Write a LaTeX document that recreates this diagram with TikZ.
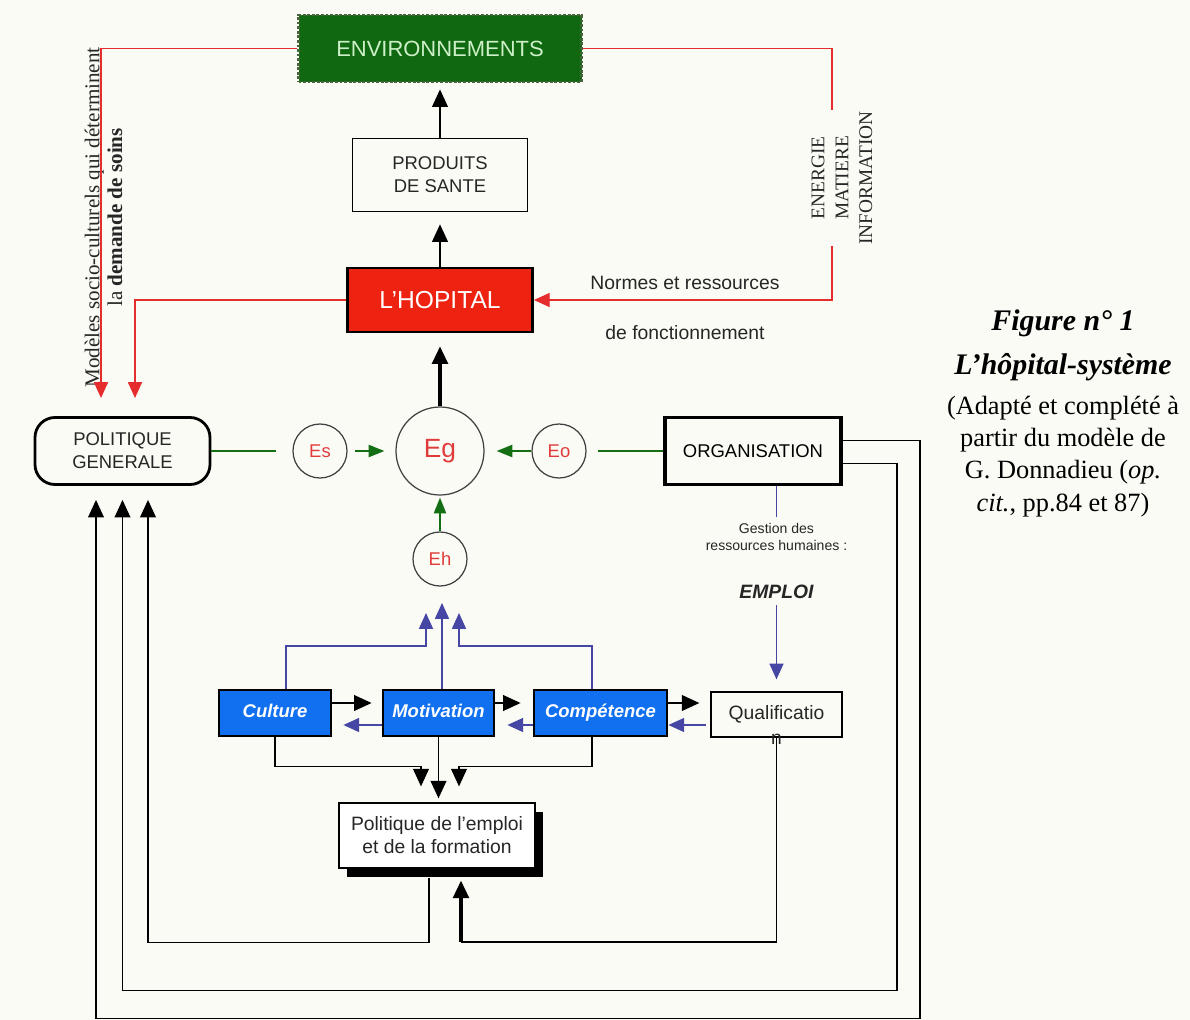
\documentclass[tikz,border=0pt]{standalone}
\usepackage{fontspec}
\setmainfont{Liberation Serif}
\setsansfont{Liberation Sans}
\usepackage{tikz}
\usetikzlibrary{
    arrows.meta,
    positioning,
    calc,
    shadows
}

\definecolor{paper}{RGB}{251,251,245}
\definecolor{envgreen}{RGB}{16,104,16}
\definecolor{envtext}{RGB}{205,240,200}
\definecolor{envdot}{RGB}{70,100,60}
\definecolor{hopred}{RGB}{238,34,16}
\definecolor{linered}{RGB}{230,45,45}
\definecolor{boxblue}{RGB}{16,112,240}
\definecolor{lineblue}{RGB}{70,70,165}
\definecolor{arrgreen}{RGB}{20,110,20}
\definecolor{etext}{RGB}{225,60,60}

\newcommand{\fsz}[2]{\fontsize{#1}{#2}\selectfont}

\begin{document}
\begin{tikzpicture}[
            box/.style={draw, align=center, inner sep=2pt, text=black!85, font=\sffamily\fsz{10.5pt}{13pt}},
            envbox/.style={box, fill=envgreen, draw=envdot, densely dotted, line width=1.6pt, text=envtext,
                minimum width=5.66cm, minimum height=1.34cm, font=\sffamily\fsz{12.5pt}{14pt}},
            hopbox/.style={box, fill=hopred, line width=1.6pt, text=white,
                minimum width=3.7cm, minimum height=1.28cm, font=\sffamily\fsz{14pt}{16pt}},
            bluebox/.style={box, fill=boxblue, line width=1.6pt, text=white, minimum height=0.92cm,
                text height=1.6ex, text depth=0.4ex, font=\sffamily\bfseries\itshape\fsz{10.5pt}{12pt}},
            ecirc/.style={circle, draw=black!75, line width=0.7pt, minimum size=1.08cm, inner sep=0pt,
                text=etext, font=\sffamily\fsz{10.5pt}{12pt}},
            note/.style={align=center, text=black!85, font=\sffamily\fsz{11pt}{13pt}},
            kline/.style={line width=0.9pt, black},
            karr/.style={-{Triangle[length=10pt, width=9pt]}, line width=0.9pt, black},
            tarr/.style={-{Triangle[length=10pt, width=9pt]}, line width=1.8pt, black},
            rarr/.style={-{Triangle[length=9pt, width=8pt]}, line width=0.8pt, linered},
            garr/.style={-{Triangle[length=9pt, width=7pt]}, line width=0.8pt, arrgreen},
            gline/.style={line width=0.7pt, arrgreen},
            barr/.style={-{Triangle[length=9pt, width=8pt]}, line width=0.8pt, lineblue},
            bline/.style={line width=0.8pt, lineblue}
        ]
            \fill[paper] (0,0) rectangle (23.8,-20.4);
            \useasboundingbox (0,0) rectangle (23.8,-20.4);

            % ====== Top: environment / hospital ======
            \node[envbox] (env) at (8.8,-0.97) {ENVIRONNEMENTS};
            \node[box, minimum width=3.5cm, minimum height=1.46cm] (prod) at (8.8,-3.49) {PRODUITS\\DE SANTE};
            \node[hopbox] (hop) at (8.8,-6.0) {L'HOPITAL};

            \draw[karr, shorten >=0.12cm] (prod.north) -- (env.south);
            \draw[karr, shorten >=0.26cm] (hop.north) -- (prod.south);

            \node[rotate=90, align=center, text=black!85, font=\fsz{12pt}{13pt}] (socio) at (2.07,-4.35)
                {Modèles socio-culturels qui déterminent\\la \textbf{demande de soins}};
            \node[note] (norm) at (13.7,-5.66) {Normes et ressources};
            \node[note] (fonc) at (13.7,-6.66) {de fonctionnement};

            \coordinate (dm1) at (2.02,-7.96);
            \coordinate (dm2) at (2.7,-7.96);
            \coordinate (rc) at (16.64,-0.97);
            \draw[rarr] (env.west) -| (dm1);
            \draw[rarr] (hop.west) -| (dm2);
            \draw[rarr] (env.east) -- (rc) |- (hop.east);
            \node[rotate=90, align=center, fill=paper, inner sep=1pt, text=black!85, font=\fsz{11pt}{13.6pt}] (emi) at (16.84,-3.56)
                {ENERGIE\\MATIERE\\INFORMATION};

            % ====== Middle row: E circles ======
            \node[box, rounded corners=0.4cm, line width=1.6pt, minimum width=3.5cm, minimum height=1.34cm] (pg) at (2.45,-9.02) {POLITIQUE\\GENERALE};
            \node[box, line width=2pt, minimum width=3.52cm, minimum height=1.34cm, text=black] (org) at (15.06,-9.02) {ORGANISATION};
            \node[ecirc, minimum size=1.76cm, font=\sffamily\fsz{15pt}{17pt}] (eg) at (8.8,-9.02) {Eg};
            \node[ecirc] (es) at (6.4,-9.02) {Es};
            \node[ecirc] (eo) at (11.18,-9.02) {Eo};
            \node[ecirc] (eh) at (8.8,-11.18) {Eh};

            \draw[tarr, shorten >=0.26cm] (eg.north) -- (hop.south);
            \draw[gline, shorten >=0.32cm] (pg.east) -- (es.west);
            \draw[garr, shorten <=0.14cm, shorten >=0.22cm] (es.east) -- (eg.west);
            \draw[gline, shorten >=0.22cm] (org.west) -- (eo.east);
            \draw[garr, shorten >=0.24cm] (eo.west) -- (eg.east);
            \draw[garr, shorten >=0.04cm] (eh.north) -- (eg.south);

            % ====== Human resources ======
            \node[note, font=\sffamily\fsz{8pt}{10pt}] (gest) at (15.53,-10.74) {Gestion des\\ressources humaines :};
            \node[note, font=\sffamily\bfseries\itshape\fsz{11pt}{13pt}] (emp) at (15.53,-11.84) {EMPLOI};

            \node[bluebox, minimum width=2.24cm] (cult) at (5.5,-14.26) {Culture};
            \node[bluebox, minimum width=2.22cm] (motiv) at (8.77,-14.26) {Motivation};
            \node[bluebox, minimum width=2.66cm] (comp) at (12.01,-14.26) {Compétence};
            \node[box, line width=0.7pt, minimum width=2.62cm, minimum height=0.9cm, font=\sffamily\fsz{11pt}{13pt},
                  label={[label distance=-0.2cm, font=\sffamily\fsz{11pt}{13pt}, text=black!85]below:n}] (qual) at (15.53,-14.29) {Qualificatio};
            \node[box, fill=white, line width=0.7pt, minimum width=3.92cm, minimum height=1.3cm, font=\sffamily\fsz{11pt}{13pt},
                  drop shadow={shadow xshift=0.16cm, shadow yshift=-0.18cm, fill=black, opacity=1}] (pol) at (8.74,-16.71)
                {Politique de l'emploi\\et de la formation};

            \draw[bline] (org.south -| gest.north) -- (gest.north);
            \draw[barr, shorten >=0.24cm] (emp.south) -- (qual.north);

            \coordinate (tipl) at (8.52,-12.26);
            \coordinate (tipm) at (8.84,-12.06);
            \coordinate (tipr) at (9.18,-12.26);
            \draw[barr] ([xshift=0.22cm]cult.north) |- ([yshift=-0.66cm]tipl) -- (tipl);
            \draw[barr] (motiv.north -| tipm) -- (tipm);
            \draw[barr] ([xshift=-0.17cm]comp.north) |- ([yshift=-0.66cm]tipr) -- (tipr);

            \draw[karr, shorten >=0.2cm] ([yshift=0.2cm]cult.east) -- ([yshift=0.2cm]motiv.west);
            \draw[karr, shorten >=0.24cm] ([yshift=0.2cm]motiv.east) -- ([yshift=0.2cm]comp.west);
            \draw[karr, shorten >=0.22cm] ([yshift=0.2cm]comp.east) -- ([yshift=0.2cm]comp.east -| qual.west);
            \draw[barr, shorten >=0.22cm] ([yshift=-0.24cm]motiv.west) -- ([yshift=-0.24cm]cult.east);
            \draw[barr, shorten >=0.24cm] ([yshift=-0.24cm]comp.west) -- ([yshift=-0.24cm]motiv.east);
            \draw[barr, shorten <=0.08cm] ([yshift=-0.24cm]comp.east -| qual.west) -- ([yshift=-0.24cm]comp.east);

            \draw[karr, shorten >=0.32cm] (cult.south) |- ([xshift=-0.32cm,yshift=0.72cm]pol.north) -- ([xshift=-0.32cm]pol.north);
            \draw[karr, shorten >=0.08cm] (motiv.south) -- (motiv.south |- pol.north);
            \draw[karr, shorten >=0.32cm] ([xshift=-0.17cm]comp.south) |- ([xshift=0.44cm,yshift=0.72cm]pol.north) -- ([xshift=0.44cm]pol.north);

            % ====== Feedback loops ======
            \draw[karr, shorten >=0.28cm] ([xshift=-0.16cm,yshift=-0.18cm]pol.south) -- ++(0,-1.3) -| ([xshift=0.51cm]pg.south);
            \draw[karr, shorten >=0.28cm] ([yshift=-0.25cm]org.east) -- ++(1.08,0) -- ++(0,-10.54) -| (pg.south);
            \draw[karr, shorten >=0.28cm] ([yshift=0.21cm]org.east) -- ++(1.54,0) -- ++(0,-11.56) -| ([xshift=-0.53cm]pg.south);
            \coordinate (qturn) at (9.22,-18.84);
            \draw[kline] (qual.south) |- (qturn);
            \draw[tarr, shorten >=0.24cm] (qturn) -- (qturn |- pol.south);

            % ====== Caption ======
            \node[align=center, font=\bfseries\itshape\fsz{17pt}{25pt}] (figt) at (21.26,-6.9) {Figure n° 1\\L’hôpital-système};
            \node[align=center, font=\fsz{15pt}{18.3pt}] (figc) at (21.26,-9.13)
                {(Adapté et complété à\\partir du modèle de\\G. Donnadieu (\textit{op.}\\\textit{cit.}, pp.84 et 87)};
        \end{tikzpicture}
\end{document}
